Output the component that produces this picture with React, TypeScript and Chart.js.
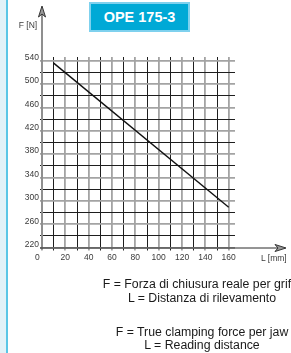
import React, { useEffect, useRef } from "react";
import { Chart, registerables } from "chart.js";

Chart.register(...registerables);

const distances = [10, 160];
const forces = [536, 289];
const xTickValues = [0, 20, 40, 60, 80, 100, 120, 140, 160];
const yTickValues = [220, 260, 300, 340, 380, 420, 460, 500, 540];
const titleText = "OPE 175-3";
const yAxisLabel = "F [N]";
const xAxisLabel = "L [mm]";
const captionsIt = ["F = Forza di chiusura reale per griffa", "L = Distanza di rilevamento"];
const captionsEn = ["F = True clamping force per jaw", "L = Reading distance"];

const FONT = "'Liberation Sans', Arial, Helvetica, sans-serif";
const GRAY = "#a3a3a3";
const DARK = "#1e1e1e";

const axesPlugin = {
  id: "axesArrows",
  afterDraw(chart: any) {
    const { ctx, chartArea } = chart;
    const { left, bottom } = chartArea;
    ctx.save();
    ctx.strokeStyle = "#8f8f8f";
    ctx.lineWidth = 2;
    ctx.beginPath();
    ctx.moveTo(left, bottom + 2);
    ctx.lineTo(left, 12);
    ctx.stroke();
    ctx.fillStyle = "#9a9a9a";
    ctx.strokeStyle = "#333";
    ctx.lineWidth = 1;
    ctx.beginPath();
    ctx.moveTo(left, 6);
    ctx.lineTo(left - 3.5, 17);
    ctx.lineTo(left, 14);
    ctx.lineTo(left + 3.5, 17);
    ctx.closePath();
    ctx.fill();
    ctx.stroke();
    ctx.strokeStyle = "#2a2a2a";
    ctx.lineWidth = 1;
    ctx.beginPath();
    ctx.moveTo(left - 2, bottom + 0.5);
    ctx.lineTo(280, bottom + 0.5);
    ctx.stroke();
    ctx.fillStyle = "#9a9a9a";
    ctx.strokeStyle = "#333";
    ctx.beginPath();
    ctx.moveTo(286, bottom + 0.5);
    ctx.lineTo(275, bottom - 3);
    ctx.lineTo(278, bottom + 0.5);
    ctx.lineTo(275, bottom + 4);
    ctx.closePath();
    ctx.fill();
    ctx.stroke();
    ctx.restore();
  },
};

function App() {
  const ref = useRef<HTMLCanvasElement | null>(null);

  useEffect(() => {
    if (!ref.current) return;
    const chart = new Chart(ref.current, {
      type: "line",
      data: {
        datasets: [
          {
            data: distances.map((d, i) => ({ x: d, y: forces[i] })),
            borderColor: "#111",
            borderWidth: 1.4,
            pointRadius: 0,
            fill: false,
            tension: 0,
          },
        ],
      },
      options: {
        animation: false,
        responsive: false,
        devicePixelRatio: 1,
        layout: { padding: { top: 57, right: 56, bottom: 91.5, left: 0 } },
        plugins: { legend: { display: false }, tooltip: { enabled: false } },
        scales: {
          x: {
            type: "linear",
            min: 0,
            max: 165.4,
            afterBuildTicks: (s: any) => {
              s.ticks = s.ticks.filter((t: any) => t.value <= 160);
            },
            afterFit: (s: any) => {
              s.height = 14;
            },
            border: { display: false },
            grid: {
              color: (c: any) => (c.tick && c.tick.value % 20 === 0 ? GRAY : DARK),
              lineWidth: (c: any) => (c.tick && c.tick.value % 20 === 0 ? 1.8 : 1),
              tickLength: 3,
            },
            ticks: {
              stepSize: 10,
              includeBounds: false,
              autoSkip: false,
              maxRotation: 0,
              padding: 2,
              color: "#3a3a3a",
              font: { family: FONT, size: 8.5 },
              callback: (v: any) =>
                xTickValues.includes(v) ? (v === 0 ? "0    " : String(v)) : "",
            },
          },
          y: {
            type: "linear",
            min: 220,
            max: 546.5,
            afterBuildTicks: (s: any) => {
              s.ticks = s.ticks.filter((t: any) => t.value <= 540);
            },
            afterFit: (s: any) => {
              s.width = 42;
            },
            border: { display: false },
            grid: {
              color: (c: any) => (c.tick && (c.tick.value - 220) % 40 === 0 ? GRAY : DARK),
              lineWidth: (c: any) => (c.tick && (c.tick.value - 220) % 40 === 0 ? 1.8 : 1),
              tickLength: 2,
            },
            ticks: {
              stepSize: 20,
              includeBounds: false,
              autoSkip: false,
              padding: 1,
              labelOffset: -3,
              color: "#3a3a3a",
              font: { family: FONT, size: 8.5 },
              callback: (v: any) => (yTickValues.includes(v) ? String(v) : ""),
            },
          },
        },
      },
      plugins: [axesPlugin],
    });
    return () => chart.destroy();
  }, []);

  const captionStyle = (top: number): React.CSSProperties => ({
    position: "absolute",
    left: 62,
    width: 280,
    top,
    textAlign: "center",
    whiteSpace: "nowrap",
    fontFamily: FONT,
    fontSize: 12.3,
    lineHeight: "13px",
    color: "#1a1a1a",
  });

  return (
    <div
      style={{
        position: "absolute",
        left: 0,
        top: 0,
        width: 291,
        height: 353,
        overflow: "hidden",
        background: "#ffffff",
      }}
    >
      <div style={{ position: "absolute", left: 0, top: 0, width: 6, height: 353, background: "#e1f2f8" }} />
      <div style={{ position: "absolute", left: 6, top: 0, width: 2, height: 353, background: "#5ac6e6" }} />
      <canvas ref={ref} width={291} height={353} style={{ position: "absolute", left: 0, top: 0 }} />
      <div
        style={{
          position: "absolute",
          left: 89,
          top: 2,
          width: 101,
          height: 30,
          boxSizing: "border-box",
          border: "2px solid #7fd1ee",
          background: "#00a9d6",
          color: "#ffffff",
          fontFamily: FONT,
          fontWeight: "bold",
          fontSize: 14.5,
          display: "flex",
          alignItems: "center",
          justifyContent: "center",
        }}
      >
        {titleText}
      </div>
      <div
        style={{
          position: "absolute",
          left: 16,
          top: 20,
          width: 24,
          textAlign: "center",
          fontFamily: FONT,
          fontSize: 8.5,
          lineHeight: "10px",
          color: "#3a3a3a",
        }}
      >
        {yAxisLabel}
      </div>
      <div
        style={{
          position: "absolute",
          left: 261,
          top: 253,
          whiteSpace: "nowrap",
          fontFamily: FONT,
          fontSize: 8.5,
          lineHeight: "10px",
          color: "#3a3a3a",
        }}
      >
        {xAxisLabel}
      </div>
      <div style={captionStyle(278)}>{captionsIt[0]}</div>
      <div style={captionStyle(291.5)}>{captionsIt[1]}</div>
      <div style={captionStyle(325.5)}>{captionsEn[0]}</div>
      <div style={captionStyle(339)}>{captionsEn[1]}</div>
    </div>
  );
}

export default App;
